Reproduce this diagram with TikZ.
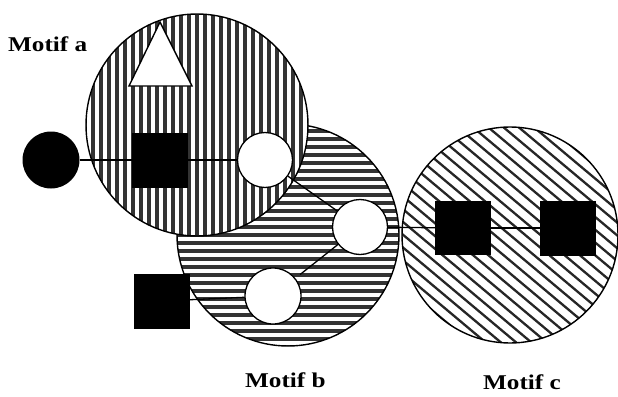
\documentclass[tikz,border=0pt]{standalone}
\usepackage{fontspec}
\setmainfont{Liberation Serif}
\newfontfamily\labfont{Liberation Serif}[FakeStretch=1.2]
\begin{document}
\begin{tikzpicture}[x=1bp,y=1bp,
  big/.style={circle,draw,line width=1.4bp,fill=white,inner sep=0pt,minimum size=#1},
  vstripes/.style={path picture={\foreach \k in {-15,...,15} \draw[line width=3.2bp,black!80] ([xshift=\k*8bp]path picture bounding box.north) -- ([xshift=\k*8bp]path picture bounding box.south);}},
  hstripes/.style={path picture={\foreach \k in {-15,...,15} \draw[line width=3.2bp,black!80] ([yshift=\k*8bp]path picture bounding box.west) -- ([yshift=\k*8bp]path picture bounding box.east);}},
  dstripes/.style={path picture={\foreach \k in {-14,...,14} \draw[line width=2.3bp,black!85] ([xshift=\k*6.3bp,yshift=\k*7.5bp]path picture bounding box.center) ++(-130bp,109bp) -- ++(260bp,-218bp);}},
  blacksq/.style={rectangle,fill=black,inner sep=0pt,minimum width=56bp,minimum height=55bp},
  whitecirc/.style={circle,draw,line width=1.3bp,fill=white,inner sep=0pt,minimum size=55bp},
  blackcirc/.style={circle,fill=black,inner sep=0pt,minimum size=57bp},
  link/.style={line width=1.3bp},
  lab/.style={anchor=base west,inner sep=0pt,font=\labfont\bfseries\fontsize{21bp}{25bp}\selectfont}
]
\fill[white] (0,0) rectangle (618,396);
\useasboundingbox (0,0) rectangle (618,396);

% big motif circles
\node[big=222bp,hstripes] (cb) at (288,161) {};
\node[big=222bp,vstripes] (ca) at (197,271) {};
\node[big=216bp,dstripes] (cc) at (510,161) {};

% triangle
\draw[fill=white,line width=1.4bp] (160,374) -- (192,310) -- (129,310) -- cycle;

% small elements
\node[blackcirc] (bc) at (51,236) {};
\node[blacksq] (sa) at (160,236) {};
\node[whitecirc] (wa) at (265,236) {};
\node[whitecirc] (wb1) at (360,169) {};
\node[whitecirc,minimum size=56bp] (wb2) at (273,100) {};
\node[blacksq] (sb) at (162,95) {};
\node[blacksq,minimum height=54bp] (sc1) at (463,168) {};
\node[blacksq] (sc2) at (568,168) {};

% connectors
\draw[link] (bc) -- (sa);
\draw[link] (sa) -- (wa);
\draw[link] (wa) -- (wb1);
\draw[link,shorten >=6bp] (wb1) -- (wb2);
\draw[link] (sb) -- (wb2);
\draw[link] (wb1) -- (sc1);
\draw[link] (sc1) -- (sc2);

% labels
\node[lab] (la) at (8,345) {Motif a};
\node[lab] (lb) at (245,9) {Motif b};
\node[lab] (lc) at (483,7) {Motif c};
\end{tikzpicture}
\end{document}
